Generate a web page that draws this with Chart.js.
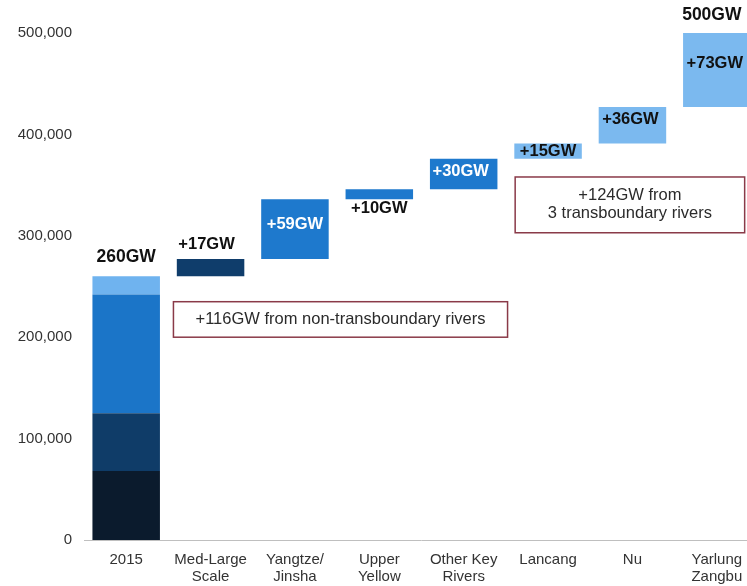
<!DOCTYPE html>
<html>
<head>
<meta charset="utf-8">
<script src="https://cdn.jsdelivr.net/npm/chart.js@4/dist/chart.umd.min.js"></script>
<style>
    html, body { margin: 0; padding: 0; background: #fff; overflow: hidden; }
    #wrap { width: 760px; height: 586px; position: relative; }
</style>
</head>
<body>
<div id="wrap"><canvas id="hydroChart"></canvas></div>
<script>
// categories on the x axis
const categories = [
    ['2015'],
    ['Med-Large', 'Scale'],
    ['Yangtze/', 'Jinsha'],
    ['Upper', 'Yellow'],
    ['Other Key', 'Rivers'],
    ['Lancang'],
    ['Nu'],
    ['Yarlung', 'Zangbu']
];

// 2015 capacity split into stacked parts (MW)
const baseParts = [68000, 57000, 117000, 18000];

// capacity added per basin (MW), one per category after 2015
const additions = [17000, 59000, 10000, 30000, 15000, 36000, 73000];

// y axis ticks
const yTicks = [0, 100000, 200000, 300000, 400000, 500000];

// text shown on the bars
const barLabels = ['260GW', '+17GW', '+59GW', '+10GW', '+30GW', '+15GW', '+36GW', '+73GW'];
const totalLabel = '500GW';

// colours
const partColors = ['#0b1b2d', '#0f3c68', '#1b75c8', '#6fb3ef'];
const addColors = ['#0f3d6b', '#1e79cd', '#1e79cd', '#1e79cd', '#7bb9ef', '#7bb9ef', '#7bb9ef'];

// build floating bars from the arrays
const datasets = [];
let run = 0;
baseParts.forEach((part, i) => {
    const data = categories.map(() => null);
    data[0] = [run, run + part];
    run += part;
    datasets.push({
        data: data,
        backgroundColor: partColors[i],
        grouped: false,
        barPercentage: 0.8,
        categoryPercentage: 1
    });
});

const addData = [null];
additions.forEach(add => {
    addData.push([run, run + add]);
    run += add;
});
datasets.push({
    data: addData,
    backgroundColor: [null, ...addColors],
    grouped: false,
    barPercentage: 0.8,
    categoryPercentage: 1
});

// where each bar label sits: relative to bar top / bottom, and its colour
const labelPlacement = [
    { ref: 'top', dy: -19, color: '#111' },
    { ref: 'top', dy: -15, color: '#111', dx: -4 },
    { ref: 'top', dy: 25, color: '#fff' },
    { ref: 'bottom', dy: 9, color: '#111' },
    { ref: 'top', dy: 13, color: '#fff', dx: -3 },
    { ref: 'mid', dy: 0, color: '#111' },
    { ref: 'top', dy: 12, color: '#111', dx: -2 },
    { ref: 'top', dy: 30, color: '#111', dx: -2 }
];

// text boxes, in data coordinates
const noteBoxes = [
    { x0: 0.56, x1: 4.52, y0: 200000, y1: 235000, lines: ['+116GW from non-transboundary rivers'] },
    { x0: 4.61, x1: 7.33, y0: 303000, y1: 358000, lines: ['+124GW from', '3 transboundary rivers'] }
];

const FONT = '"Liberation Sans", Arial, sans-serif';

const labelPlugin = {
    id: 'barText',
    afterDatasetsDraw(chart) {
        const ctx = chart.ctx;
        const x = chart.scales.x;
        const y = chart.scales.y;
        ctx.save();
        ctx.textAlign = 'center';
        ctx.textBaseline = 'middle';

        // bar labels
        const totals = [];
        let acc = 0;
        baseParts.forEach(p => acc += p);
        totals.push([0, acc]);
        additions.forEach(a => { totals.push([acc, acc + a]); acc += a; });

        totals.forEach((range, i) => {
            const pl = labelPlacement[i];
            const top = y.getPixelForValue(range[1]);
            const bottom = y.getPixelForValue(range[0]);
            let py = pl.ref === 'top' ? top : pl.ref === 'bottom' ? bottom : (top + bottom) / 2;
            py += pl.dy;
            const px = x.getPixelForValue(i) + (pl.dx || 0);
            ctx.fillStyle = pl.color;
            ctx.font = (i === 0 ? 'bold 17.5px ' : 'bold 16.5px ') + FONT;
            ctx.fillText(barLabels[i], px, py);
        });

        // grand total above last bar
        const last = totals[totals.length - 1];
        ctx.fillStyle = '#111';
        ctx.font = 'bold 17.5px ' + FONT;
        ctx.fillText(totalLabel, x.getPixelForValue(totals.length - 1) - 5, y.getPixelForValue(last[1]) - 18);

        // note boxes
        noteBoxes.forEach(b => {
            const left = x.getPixelForValue(b.x0);
            const right = x.getPixelForValue(b.x1);
            const top = y.getPixelForValue(b.y1);
            const bottom = y.getPixelForValue(b.y0);
            ctx.strokeStyle = '#8a3a48';
            ctx.lineWidth = 1.5;
            ctx.strokeRect(left, top, right - left, bottom - top);
            ctx.fillStyle = '#2b2b2b';
            ctx.font = '16.5px ' + FONT;
            const cx = (left + right) / 2;
            const cy = (top + bottom) / 2;
            const lh = 18;
            b.lines.forEach((line, k) => {
                ctx.fillText(line, cx, cy + (k - (b.lines.length - 1) / 2) * lh);
            });
        });

        ctx.restore();
    }
};

const baselinePlugin = {
    id: 'baseline',
    afterDraw(chart) {
        const ctx = chart.ctx;
        const y0 = chart.scales.y.getPixelForValue(0);
        ctx.save();
        ctx.strokeStyle = '#bfbfbf';
        ctx.lineWidth = 1;
        ctx.beginPath();
        ctx.moveTo(chart.chartArea.left, y0 + 0.5);
        ctx.lineTo(chart.chartArea.right, y0 + 0.5);
        ctx.stroke();
        ctx.restore();
    }
};

new Chart(document.getElementById('hydroChart').getContext('2d'), {
    type: 'bar',
    data: {
        labels: categories,
        datasets: datasets
    },
    options: {
        responsive: true,
        maintainAspectRatio: false,
        animation: false,
        layout: {
            padding: { top: 33, right: 1, left: 0, bottom: 0 }
        },
        plugins: {
            legend: { display: false },
            tooltip: { enabled: false }
        },
        scales: {
            x: {
                grid: { display: false, drawTicks: false },
                border: { display: false },
                ticks: {
                    color: '#333',
                    font: { family: FONT, size: 15, lineHeight: 1.13 },
                    padding: 11,
                    maxRotation: 0,
                    autoSkip: false
                },
                afterFit(scale) { scale.height = 46; }
            },
            y: {
                min: 0,
                max: 500000,
                grid: { display: false, drawTicks: false },
                border: { display: false },
                afterBuildTicks(scale) {
                    scale.ticks = yTicks.map(v => ({ value: v }));
                },
                ticks: {
                    color: '#333',
                    font: { family: FONT, size: 15 },
                    padding: 12,
                    callback: v => v.toLocaleString('en-US')
                },
                afterFit(scale) { scale.width = 84; }
            }
        }
    },
    plugins: [labelPlugin, baselinePlugin]
});
</script>
</body>
</html>
